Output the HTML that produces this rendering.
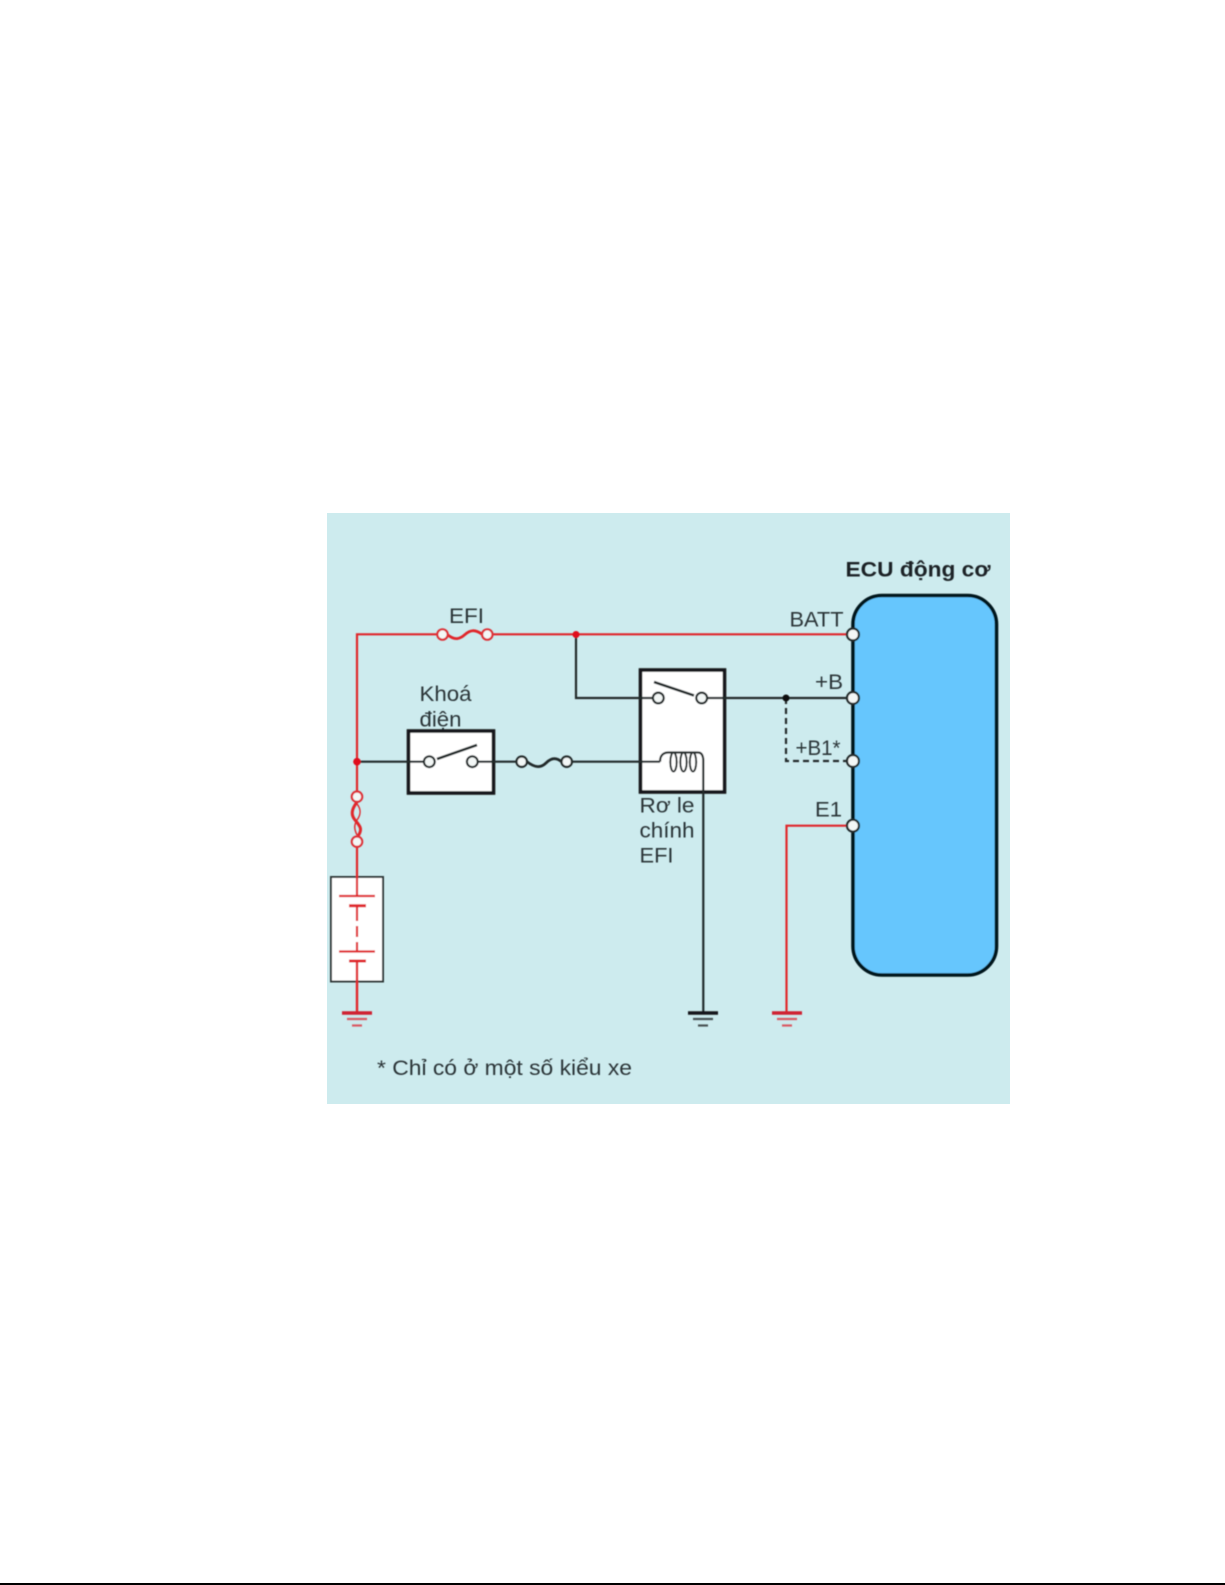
<!DOCTYPE html>
<html><head><meta charset="utf-8"><style>
html,body{margin:0;padding:0;background:#fff}
svg{display:block}
text{font-family:"Liberation Sans","Noto Sans CJK SC",sans-serif;font-size:21px;fill:#2c3538}
</style></head><body>
<svg width="1225" height="1585" viewBox="0 0 1225 1585" xmlns="http://www.w3.org/2000/svg">
<defs><filter id="b" filterUnits="userSpaceOnUse" x="300" y="490" width="740" height="640"><feGaussianBlur stdDeviation="0.55"/></filter></defs>
<rect width="1225" height="1585" fill="#fff"/>
<rect x="0" y="1583" width="1225" height="2" fill="#000"/>
<rect x="327" y="513" width="683" height="591" fill="#cdebee"/>
<g filter="url(#b)">

<!-- ECU -->
<rect x="853" y="595.5" width="143.5" height="379.5" rx="29" fill="#66c6fd" stroke="#06141c" stroke-width="3.6"/>

<!-- Boxes -->
<rect x="408.5" y="731" width="85" height="62" fill="#fff" stroke="#14181a" stroke-width="3.6"/>
<rect x="640.5" y="670" width="84" height="122" fill="#fff" stroke="#14181a" stroke-width="3.6"/>
<rect x="331" y="877" width="52" height="104.5" fill="#fff" stroke="#2f3739" stroke-width="2"/>

<g fill="none" stroke="#e0262c" stroke-width="2.2">
  <path d="M437 634.3H357V791"/>
  <path d="M492 634.3H847"/>
  <path d="M357 846V896"/>
  <path d="M357 906V921"/>
  <path d="M357 926V937"/>
  <path d="M357 942V951.5"/>
  <path d="M357 961V1013" stroke-width="2.4"/>
  <path d="M847 825.7H786.5V1013"/>
  <path d="M339 896H375"/>
  <path d="M339 951.5H375"/>
  <path d="M349 905.7H366" stroke-width="3"/>
  <path d="M349 961H366" stroke-width="3"/>
  <!-- EFI fuse -->
  <path d="M447 634.3C455 641 460 639 465 634.5C470 630 475 629 482 634.3" stroke-width="2.8"/>
  <!-- vertical fuse -->
  <path d="M357 802C351 810 351 815 355 820C360 826 363 829 358 836" stroke-width="3"/>
  <path d="M357 804C362 810 360 816 357 820C354 825 354 829 357 835" stroke-width="1.4"/>
</g>
<!-- red grounds -->
<g stroke="#cf2430" fill="none">
  <path d="M342 1013H372" stroke-width="3.4"/>
  <path d="M347 1019H367" stroke-width="2.2" stroke="#d95a63"/>
  <path d="M352 1025.5H362" stroke-width="2.2" stroke="#d95a63"/>
  <path d="M772 1013H802" stroke-width="3.4"/>
  <path d="M777 1019H797" stroke-width="2.2" stroke="#d95a63"/>
  <path d="M782 1025.5H792" stroke-width="2.2" stroke="#d95a63"/>
</g>

<!-- Black wires -->
<g fill="none" stroke="#232a2c" stroke-width="2.2">
  <path d="M576 634.5V698H653"/>
  <path d="M707 698H847"/>
  <path d="M357 761.7H424"/>
  <path d="M477.5 761.7H516.5"/>
  <path d="M572 761.7H660"/>
  <path d="M437 759L477 745" stroke-width="2.6"/>
  <path d="M654 682L694 695.5" stroke-width="2.6"/>
  <path d="M527 761.7C535 768 541 768 546 763C551 758 556 757 561.5 761.7" stroke-width="2.8"/>
  <!-- coil -->
  <path d="M660 761.7C660 755 664 752.5 668 752.5H698C701 752.5 703 755 703.3 760V1013"/>
  <ellipse cx="673.5" cy="762" rx="3.2" ry="9.5" stroke-width="2"/>
  <ellipse cx="683.5" cy="762" rx="3.2" ry="9.5" stroke-width="2"/>
  <ellipse cx="693" cy="762" rx="3.2" ry="9.5" stroke-width="2"/>
  <path d="M786 698V761H847" stroke-dasharray="6 4"/>
  <path d="M688 1013H718" stroke-width="3.4" stroke="#14181a"/>
  <path d="M693 1019H713" stroke-width="2.2" stroke="#4a5355"/>
  <path d="M698 1025.5H708" stroke-width="2.2" stroke="#4a5355"/>
</g>

<!-- Dots -->
<circle cx="576" cy="634.5" r="3.5" fill="#e0101c"/>
<circle cx="357" cy="761.7" r="3.8" fill="#e0101c"/>
<circle cx="786" cy="698" r="3.5" fill="#111"/>

<!-- Terminals -->
<g fill="#f3f7f6" stroke="#dd3238" stroke-width="2.2">
  <circle cx="442.5" cy="634.5" r="5.2"/>
  <circle cx="487.3" cy="634.5" r="5.2"/>
  <circle cx="357" cy="796.7" r="5.2"/>
  <circle cx="357" cy="841.7" r="5.2"/>
</g>
<g fill="#f3f7f6" stroke="#232a2c" stroke-width="2.2">
  <circle cx="429.3" cy="761.7" r="5.4"/>
  <circle cx="472.3" cy="761.7" r="5.4"/>
  <circle cx="521.7" cy="761.7" r="5.2"/>
  <circle cx="566.7" cy="761.7" r="5.2"/>
  <circle cx="658.3" cy="698" r="5.4"/>
  <circle cx="701.7" cy="698" r="5.4"/>
  <circle cx="853" cy="634.5" r="6"/>
  <circle cx="853" cy="698" r="6"/>
  <circle cx="853" cy="761" r="6"/>
  <circle cx="853" cy="825.7" r="6"/>
</g>

<!-- Labels -->
<text x="449" y="623" textLength="35" lengthAdjust="spacingAndGlyphs">EFI</text>
<text x="419.5" y="701" textLength="52" lengthAdjust="spacingAndGlyphs">Khoá</text>
<text x="419.5" y="726.5" textLength="42" lengthAdjust="spacingAndGlyphs">điện</text>
<text x="639.5" y="812.5" textLength="55" lengthAdjust="spacingAndGlyphs">Rơ le</text>
<text x="639.5" y="837.5" textLength="55" lengthAdjust="spacingAndGlyphs">chính</text>
<text x="639.5" y="862.5" textLength="34" lengthAdjust="spacingAndGlyphs">EFI</text>
<text x="789.5" y="626.5" textLength="54" lengthAdjust="spacingAndGlyphs">BATT</text>
<text x="815" y="689" textLength="28" lengthAdjust="spacingAndGlyphs">+B</text>
<text x="795.5" y="755" textLength="45" lengthAdjust="spacingAndGlyphs">+B1*</text>
<text x="815" y="816.5" textLength="27" lengthAdjust="spacingAndGlyphs">E1</text>
<text x="845.5" y="576.5" textLength="145" lengthAdjust="spacingAndGlyphs" style="font-weight:bold;fill:#1c2426">ECU động cơ</text>
<text x="377" y="1075" textLength="255" lengthAdjust="spacingAndGlyphs">* Chỉ có ở một số kiểu xe</text>
</g>
</svg>
</body></html>
